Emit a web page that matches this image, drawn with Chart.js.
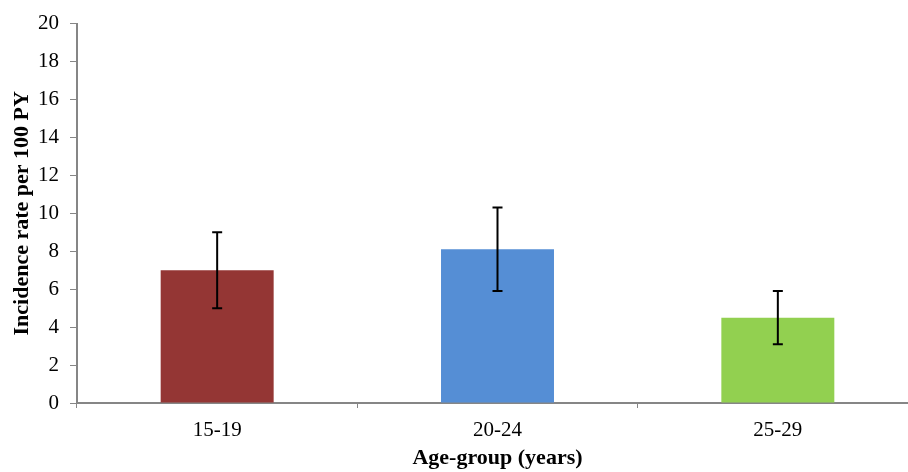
<!DOCTYPE html>
<html>
<head>
<meta charset="utf-8">
<script src="https://cdn.jsdelivr.net/npm/chart.js@4.4.0/dist/chart.umd.min.js"></script>
<style>
  html, body { margin: 0; padding: 0; background: #fff; }
  #wrap { width: 908px; height: 472px; overflow: hidden; }
</style>
</head>
<body>
<div id="wrap"><canvas id="incidenceChart" width="918" height="472"></canvas></div>
<script>
// Incidence rate per 100 PY by age group, with 95% CI
const ageGroups = ['15-19', '20-24', '25-29'];
const incidenceRates = [7.0, 8.1, 4.5];
const ciLower = [5.0, 5.9, 3.1];
const ciUpper = [9.0, 10.3, 5.9];
const barColors = ['#943634', '#558ED5', '#92D050'];

const axisGrey = '#868686';
const serif = "'Liberation Serif', 'Times New Roman', serif";

// Draws the error bars using the chart's own scales
const errorBarPlugin = {
    id: 'errorBars',
    afterDatasetsDraw(chart) {
        const ctx = chart.ctx;
        const yScale = chart.scales.y;
        const meta = chart.getDatasetMeta(0);
        ctx.save();
        ctx.strokeStyle = '#000';
        ctx.lineWidth = 2;
        meta.data.forEach(function(bar, i) {
            const x = bar.x;
            const yTop = yScale.getPixelForValue(ciUpper[i]);
            const yBot = yScale.getPixelForValue(ciLower[i]);
            ctx.beginPath();
            ctx.moveTo(x, yTop);
            ctx.lineTo(x, yBot);
            ctx.moveTo(x - 5, yTop);
            ctx.lineTo(x + 5, yTop);
            ctx.moveTo(x - 5, yBot);
            ctx.lineTo(x + 5, yBot);
            ctx.stroke();
        });
        ctx.restore();
    }
};

const ctx = document.getElementById('incidenceChart').getContext('2d');
new Chart(ctx, {
    type: 'bar',
    data: {
        labels: ageGroups,
        datasets: [{
            data: incidenceRates,
            backgroundColor: barColors,
            borderWidth: 0,
            barPercentage: 0.403,
            categoryPercentage: 1.0
        }]
    },
    options: {
        responsive: false,
        animation: false,
        layout: { padding: { top: 22, left: 0, right: 0, bottom: 0 } },
        plugins: {
            legend: { display: false },
            tooltip: { enabled: false }
        },
        scales: {
            x: {
                afterFit: function(scale) { scale.height = 69; },
                grid: { drawOnChartArea: false, drawTicks: true, tickLength: 5, color: axisGrey, lineWidth: 1 },
                border: { color: axisGrey, width: 2 },
                ticks: { color: '#000', font: { family: serif, size: 21 }, padding: 10 },
                title: {
                    display: true,
                    text: 'Age-group (years)',
                    color: '#000',
                    font: { family: serif, size: 22, weight: 'bold' },
                    padding: { top: 0, bottom: 0 }
                }
            },
            y: {
                min: 0,
                max: 20,
                afterFit: function(scale) { scale.width = 77; },
                grid: { drawOnChartArea: false, drawTicks: true, tickLength: 7, color: axisGrey, lineWidth: 1 },
                border: { color: axisGrey, width: 2 },
                ticks: { stepSize: 2, color: '#000', font: { family: serif, size: 21 }, padding: 11 },
                title: {
                    display: true,
                    text: 'Incidence rate per 100 PY',
                    color: '#000',
                    font: { family: serif, size: 22, weight: 'bold' },
                    padding: { top: 9, bottom: 0 }
                }
            }
        }
    },
    plugins: [errorBarPlugin]
});
</script>
</body>
</html>
